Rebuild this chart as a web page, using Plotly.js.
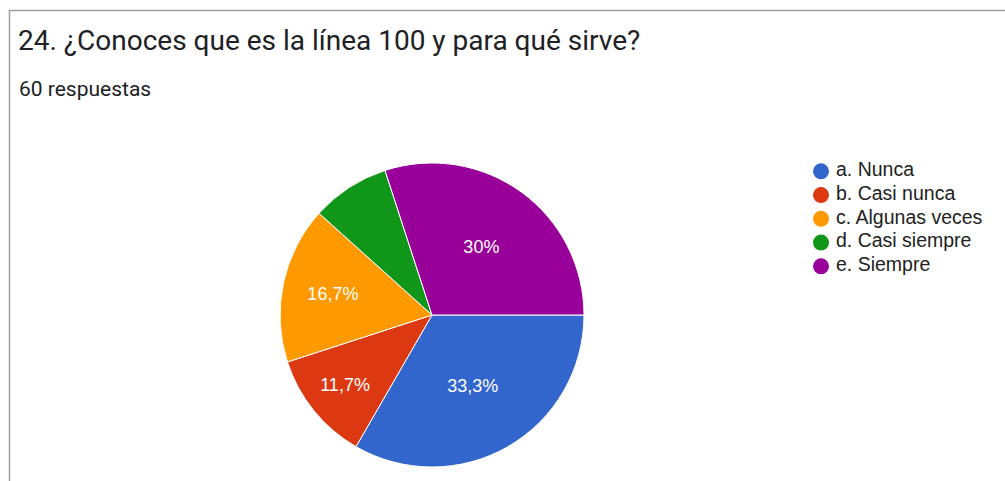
<!DOCTYPE html>
<html><head><meta charset="utf-8">
<script src="https://cdn.plot.ly/plotly-3.0.1.min.js"></script>
<style>html,body{margin:0;padding:0;background:#fff;}#chart{width:1005px;height:481px;}</style>
</head><body><div id="chart"></div>
<script>
const categories = ['a. Nunca','b. Casi nunca','c. Algunas veces','d. Casi siempre','e. Siempre'];
const values = [20, 7, 10, 5, 18];
const colors = ['#3366cc','#dc3912','#ff9900','#109618','#990099'];
const titleText = '24. ¿Conoces que es la línea 100 y para qué sirve?';
const subtitleText = '60 respuestas';

const total = values.reduce((a,b)=>a+b,0);
const labelsText = values.map(v=>{
  const p = v/total*100;
  if (p < 10) return '';
  let s = (Math.round(p*10)/10).toFixed(1);
  if (s.endsWith('.0')) s = s.slice(0,-2);
  return s.replace('.', ',') + '%';
});
const legendIndex = categories.map((c,i)=>i);

const W=1005,H=481;
const cx=432, cy=315, r=152;
const rowTop=159.5, rowH=23.75;
const legX0=821, legW=100, textGap=15;
const traces = [{
  type:'pie', labels:categories, values:values, sort:false, direction:'clockwise', rotation:90,
  marker:{colors:colors, line:{color:'#ffffff', width:1}},
  text:labelsText, textinfo:'text', textposition:'inside', insidetextorientation:'horizontal',
  textfont:{family:'Arial, Liberation Sans, sans-serif', size:18, color:'#ffffff'},
  hoverinfo:'none', showlegend:false,
  domain:{x:[(cx-r)/W,(cx+r)/W], y:[1-(cy+r)/H, 1-(cy-r)/H]}
},{
  type:'scatter', mode:'markers', x:legendIndex.map(()=>0), y:legendIndex, cliponaxis:false,
  marker:{color:colors, size:16, symbol:'circle'}, hoverinfo:'none', showlegend:false
},{
  type:'scatter', mode:'text', x:legendIndex.map(()=>textGap/legW), y:legendIndex,
  text:categories, textposition:'middle right', cliponaxis:false,
  textfont:{family:'Arial, Liberation Sans, sans-serif', size:19.5, color:'#222222'},
  hoverinfo:'none', showlegend:false
}];

const layout = {
  width:W, height:H, margin:{l:0,r:0,t:0,b:0},
  paper_bgcolor:'#ffffff', plot_bgcolor:'rgba(0,0,0,0)', showlegend:false,
  xaxis:{visible:false, range:[0,1], domain:[legX0/W, (legX0+legW)/W], fixedrange:true},
  yaxis:{visible:false, range:[categories.length-0.5,-0.5], domain:[1-(rowTop+rowH*categories.length)/H, 1-rowTop/H], fixedrange:true},
  title:{text:titleText, x:18/W, xanchor:'left', xref:'paper', y:1-40/H, yanchor:'middle', yref:'container',
    font:{family:'Roboto, sans-serif', size:28, color:'#202124'}},
  annotations:[{text:subtitleText, xref:'paper', yref:'paper', x:17/W, y:1-89/H, xanchor:'left', yanchor:'middle',
    showarrow:false, font:{family:'Roboto, sans-serif', size:21, color:'#202124'}}],
  shapes:[{type:'path', xref:'paper', yref:'paper', path:`M ${9.5/W} 0 L ${9.5/W} ${1-10.5/H} L 1 ${1-10.5/H}`,
    line:{color:'#9e9e9e', width:1.5}}]
};
Plotly.newPlot('chart', traces, layout, {displayModeBar:false, staticPlot:true});
</script></body></html>
